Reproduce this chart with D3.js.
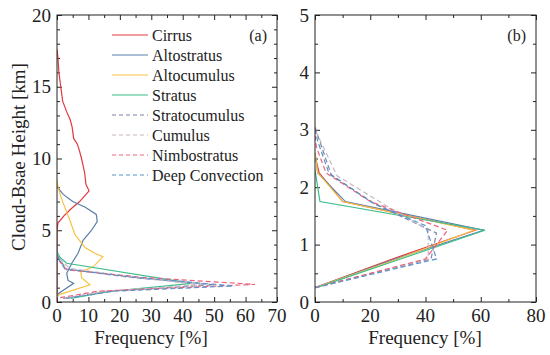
<!DOCTYPE html>
<html><head><meta charset="utf-8">
<script src="https://cdn.jsdelivr.net/npm/d3@7"></script>
<style>body{margin:0;background:#fff}svg{display:block}</style>
</head><body><svg id="c" width="550" height="355" font-family="'Liberation Serif', 'Times New Roman', Tinos, 'Nimbus Roman', 'DejaVu Serif', serif"></svg>
<script>
// ---------- data: [frequency %, height km] ----------
const seriesNames = ["Cirrus","Altostratus","Altocumulus","Stratus","Stratocumulus","Cumulus","Nimbostratus","Deep Convection"];
const seriesColors = ["#e2383f","#5b7fa8","#f6c244","#3dbd8c","#7e84a6","#c4b8c2","#f0607a","#5a94c8"];
const seriesDashed = [false,false,false,false,true,true,true,true];

// panel (a)
const cirrusA = [[0,0],[0,5],[0.3,5.5],[2.2,6],[4.5,6.5],[7.2,7],[10.2,7.75],[9.2,8.2],[8.8,9],[8.3,9.5],[7.8,10],[7.2,10.5],[6.5,11],[5.3,11.4],[4.8,12.2],[4.2,12.7],[3,13.3],[1.8,14],[1.2,15],[0.6,16],[0.3,17],[0,17.6]];
const altostratusA = [[0,0.25],[0.5,0.6],[5.3,1.3],[3.5,1.5],[3.1,2.0],[4.7,2.7],[6.7,3.4],[8.3,4.3],[11,5],[12.8,5.6],[12.5,6.1],[9,6.6],[5,7],[2,7.5],[0.5,7.9],[0,8.1]];
const altocumulusA = [[0,0.35],[0.5,0.5],[10.5,1.2],[7.8,1.7],[7.6,2.1],[11.5,2.45],[14.6,3.15],[12,3.4],[8.9,3.8],[5.7,4.7],[4.1,5.7],[1.6,7.1],[0.3,8.0],[0,8.5]];
const stratusA = [[4.5,0.25],[17,0.75],[43,1.3],[3.1,2.7],[1,3.1],[0,3.5]];
const stratocumulusA = [[2,0.25],[16,0.75],[50,1.2],[22,1.75],[3,2.3],[1,2.9],[0,3.3]];
const cumulusA = [[2.5,0.25],[15,0.75],[46,1.2],[23,1.75],[4,2.35],[0.8,3.0],[0,3.4]];
const nimbostratusA = [[1,0.3],[13,0.75],[63,1.23],[27,1.72],[3,2.25],[1,2.8],[0,3.2]];
const deepConvectionA = [[3,0.25],[18,0.75],[56,1.12],[25,1.72],[2.5,2.3],[0.8,2.9],[0,3.3]];

// panel (b)
const cirrusB = [[0,0.25],[28,0.75],[58,1.25],[10,1.75],[1.5,2.25],[0,2.55]];
const altostratusB = [[0,0.25],[29,0.75],[61,1.25],[11,1.75],[1,2.25],[0,2.6]];
const altocumulusB = [[0,0.25],[30,0.75],[57.5,1.25],[10,1.75],[1,2.25],[0,2.6]];
const stratusB = [[0.5,0.25],[31,0.75],[61.5,1.25],[1.8,1.75],[0,2.3]];
const stratocumulusB = [[0,0.25],[42,0.75],[44,1.2],[22,1.7],[6,2.2],[1,2.9],[0,3.05]];
const cumulusB = [[0,0.25],[41,0.75],[41,1.25],[25,1.7],[8,2.2],[2,2.8],[0,3.0]];
const nimbostratusB = [[0,0.25],[40,0.75],[48,1.25],[20,1.75],[4,2.25],[0.5,2.7],[0,2.9]];
const deepConvectionB = [[0,0.25],[44,0.75],[40,1.33],[21,1.72],[5,2.25],[1,2.8],[0,3.0]];

const xTicksA = [0,10,20,30,40,50,60,70];
const yTicksA = [0,5,10,15,20];
const xTicksB = [0,20,40,60,80];
const yTicksB = [0,1,2,3,4,5];

const dataA = [cirrusA,altostratusA,altocumulusA,stratusA,stratocumulusA,cumulusA,nimbostratusA,deepConvectionA];
const dataB = [cirrusB,altostratusB,altocumulusB,stratusB,stratocumulusB,cumulusB,nimbostratusB,deepConvectionB];

// ---------- drawing ----------
const svg = d3.select("#c");
const plotTop = 15, plotBottom = 302;
const ink = "#222";

function panel(x0, x1, xMax, yMax, xMinorStep, yMinorStep, xTicks, yTicks, data, label, withLegend, titleX){
  const x = d3.scaleLinear().domain([0,xMax]).range([x0,x1]);
  const y = d3.scaleLinear().domain([0,yMax]).range([plotBottom,plotTop]);
  const g = svg.append("g");
  g.append("defs").append("clipPath").attr("id","clip"+label).append("rect")
    .attr("x",x0).attr("y",plotTop).attr("width",x1-x0).attr("height",plotBottom-plotTop);
  const minorX = d3.range(0, xMax+1e-9, xMinorStep).filter(v=>!xTicks.some(t=>Math.abs(t-v)<1e-9));
  const minorY = d3.range(0, yMax+1e-9, yMinorStep).filter(v=>!yTicks.some(t=>Math.abs(t-v)<1e-9));
  const ax = (gen, pos, ticks, size) => g.append("g").attr("transform",pos).call(gen.tickValues(ticks).tickSize(size).tickFormat(""))
     .call(s=>{s.select(".domain").remove(); s.selectAll("line").attr("stroke",ink).attr("stroke-width",1);});
  ax(d3.axisTop(x), `translate(0,${plotBottom})`, xTicks, 5);
  ax(d3.axisTop(x), `translate(0,${plotBottom})`, minorX, 3);
  ax(d3.axisBottom(x), `translate(0,${plotTop})`, xTicks, 5);
  ax(d3.axisBottom(x), `translate(0,${plotTop})`, minorX, 3);
  ax(d3.axisRight(y), `translate(${x0},0)`, yTicks, 5);
  ax(d3.axisRight(y), `translate(${x0},0)`, minorY, 3);
  ax(d3.axisLeft(y), `translate(${x1},0)`, yTicks, 5);
  ax(d3.axisLeft(y), `translate(${x1},0)`, minorY, 3);
  g.selectAll(".xl").data(xTicks).enter().append("text").attr("x",d=>x(d)).attr("y",plotBottom+20)
    .attr("text-anchor","middle").attr("font-size",19).attr("fill",ink).text(d=>d);
  g.selectAll(".yl").data(yTicks).enter().append("text").attr("x",x0-6).attr("y",d=>y(d)+6.5)
    .attr("text-anchor","end").attr("font-size",19).attr("fill",ink).text(d=>d);
  const line = d3.line().x(d=>x(d[0])).y(d=>y(d[1]));
  const lg = g.append("g").attr("clip-path",`url(#clip${label})`);
  data.forEach((s,i)=>{
    lg.append("path").attr("d",line(s)).attr("fill","none").attr("stroke",seriesColors[i])
      .attr("stroke-width",1.2).attr("stroke-dasharray",seriesDashed[i]?"5,3":null);
  });
  g.append("rect").attr("x",x0).attr("y",plotTop).attr("width",x1-x0).attr("height",plotBottom-plotTop)
    .attr("fill","none").attr("stroke",ink).attr("stroke-width",1);
  g.append("text").attr("x",x1-10).attr("y",plotTop+26).attr("text-anchor","end").attr("font-size",16).attr("fill",ink).text(`(${label})`);
  g.append("text").attr("x",titleX).attr("y",344).attr("text-anchor","middle").attr("font-size",19).attr("fill",ink).text("Frequency [%]");
  if(withLegend){
    const lgd = g.append("g");
    seriesNames.forEach((n,i)=>{
      const yy = 35 + i*20;
      lgd.append("line").attr("x1",112).attr("x2",148).attr("y1",yy).attr("y2",yy)
        .attr("stroke",seriesColors[i]).attr("stroke-width",1.2).attr("stroke-dasharray",seriesDashed[i]?"4,3":null);
      lgd.append("text").attr("x",152).attr("y",yy+5.5).attr("font-size",16).attr("fill",ink).text(n);
    });
  }
}
panel(57, 277, 70, 20, 5, 1, xTicksA, yTicksA, dataA, "a", true, 151);
panel(315, 536, 80, 5, 10, 0.5, xTicksB, yTicksB, dataB, "b", false, 425);

svg.append("text").attr("transform","translate(25,157) rotate(-90)").attr("text-anchor","middle")
  .attr("font-size",19).attr("fill",ink).text("Cloud-Bsae Height [km]");
</script></body></html>
